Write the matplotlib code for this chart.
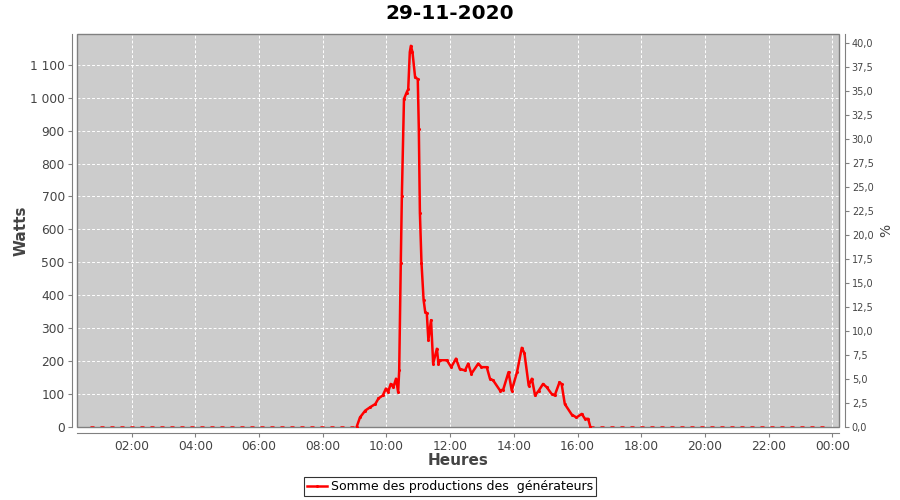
import matplotlib
matplotlib.use("Agg")
import matplotlib.pyplot as plt
from matplotlib.patches import Rectangle
from matplotlib.ticker import FuncFormatter, MultipleLocator

# Data (time of day, watts)
day_times = ["09:04", "09:10", "09:20", "09:29", "09:39", "09:45", "09:53", "09:59",
             "10:03", "10:08", "10:13", "10:18", "10:22", "10:24", "10:27", "10:29",
             "10:33", "10:38", "10:41", "10:44", "10:46", "10:49", "10:54", "10:59",
             "11:01", "11:03", "11:06", "11:10", "11:13", "11:16", "11:19", "11:24",
             "11:28", "11:35", "11:38", "11:41", "11:54", "12:02", "12:11", "12:18",
             "12:28", "12:34", "12:40", "12:53", "12:59", "13:09", "13:15", "13:21",
             "13:34", "13:40", "13:50", "13:56", "14:06", "14:15", "14:20", "14:28",
             "14:34", "14:40", "14:47", "14:55", "15:02", "15:11", "15:17", "15:26",
             "15:30", "15:36", "15:49", "15:58", "16:08", "16:14", "16:20", "16:24"]
day_watts = [0, 28, 49, 59, 69, 86, 95, 116,
             105, 130, 120, 146, 105, 171, 498, 700,
             996, 1016, 1026, 1139, 1158, 1139, 1062, 1057,
             904, 651, 498, 385, 349, 345, 263, 324,
             192, 237, 192, 202, 202, 181, 207, 176,
             171, 192, 161, 192, 181, 181, 146, 141,
             110, 113, 166, 110, 166, 240, 223, 125,
             146, 95, 110, 130, 120, 100, 95, 135,
             130, 69, 37, 28, 39, 24, 24, 0]

night_times = ["00:41", "09:04"]
night_watts = [0, 0]
evening_times = ["16:24", "23:46"]
evening_watts = [0, 0]

x_ticks = [2, 4, 6, 8, 10, 12, 14, 16, 18, 20, 22, 24]
title = "29-11-2020"
legend_label = "Somme des productions des  générateurs"


def to_hours(t):
    h, m = t.split(":")
    return int(h) + int(m) / 60.0


def thousands(v, pos):
    return f"{int(v):,}".replace(",", " ")


def pct(v, pos):
    return f"{v:.1f}".replace(".", ",")


plt.rcParams['font.family'] = ['DejaVu Sans']
text_col = "#444444"
axis_col = "#808080"

fig = plt.figure(figsize=(9, 5), dpi=100)
ax = fig.add_axes([77.3 / 900, 1 - 427.3 / 500, (839.3 - 77.3) / 900, (427.3 - 34.3) / 500])
ax.set_facecolor("#cccccc")

line_kw = dict(color="#ff0000", linewidth=1.8, zorder=6)
ax.plot([to_hours(t) for t in night_times], night_watts, dashes=(1.6, 2.4), **line_kw)
ax.plot([to_hours(t) for t in evening_times], evening_watts, dashes=(1.6, 2.4), **line_kw)
ax.plot([to_hours(t) for t in day_times], day_watts, label=legend_label,
        marker="o", markersize=1.2, **line_kw)

ax.set_xlim(0.292, 24.22)
ax.set_ylim(-1.8, 1193)
ax.set_xticks(x_ticks)
ax.set_xticklabels([f"{t % 24:02d}:00" for t in x_ticks])
ax.yaxis.set_major_locator(MultipleLocator(100))
ax.yaxis.set_major_formatter(FuncFormatter(thousands))
ax.grid(True, color="white", linestyle=(0, (3, 2)), linewidth=0.7)
ax.set_axisbelow(True)

for s in ["top", "right"]:
    ax.spines[s].set_visible(False)
for s in ["left", "bottom"]:
    ax.spines[s].set_position(("outward", 4))
    ax.spines[s].set_color(axis_col)
ax.tick_params(colors=axis_col, labelcolor=text_col, labelsize=8.8, length=3, pad=2)

ax.add_patch(Rectangle((0, 0), 1, 1, transform=ax.transAxes, fill=False,
                       edgecolor=axis_col, linewidth=1.0, clip_on=False, zorder=5))

ax2 = ax.twinx()
ax2.set_ylim(-0.06, 40.9)
ax2.yaxis.set_major_locator(MultipleLocator(2.5))
ax2.yaxis.set_major_formatter(FuncFormatter(pct))
for s in ["top", "left", "bottom"]:
    ax2.spines[s].set_visible(False)
ax2.spines["right"].set_position(("outward", 4))
ax2.spines["right"].set_color(axis_col)
ax2.tick_params(colors=axis_col, labelcolor=text_col, labelsize=7, length=3, pad=2)
ax2.set_ylabel("%", fontsize=10, color=text_col, labelpad=4)

ax.set_ylabel("Watts", fontsize=11, fontweight="bold", color=text_col, labelpad=1)
ax.set_xlabel("Heures", fontsize=11, fontweight="bold", color=text_col, labelpad=0.5)
fig.suptitle(title, fontsize=14.5, fontweight="bold", y=0.992)

leg = fig.legend(loc="lower center", bbox_to_anchor=(0.5, 0.0), fontsize=9,
                 frameon=True, fancybox=False, edgecolor="black", handlelength=1.6,
                 handletextpad=0.3, borderpad=0.25, borderaxespad=0.3)
leg.get_frame().set_linewidth(0.8)

fig.savefig("out.png", dpi=100)
